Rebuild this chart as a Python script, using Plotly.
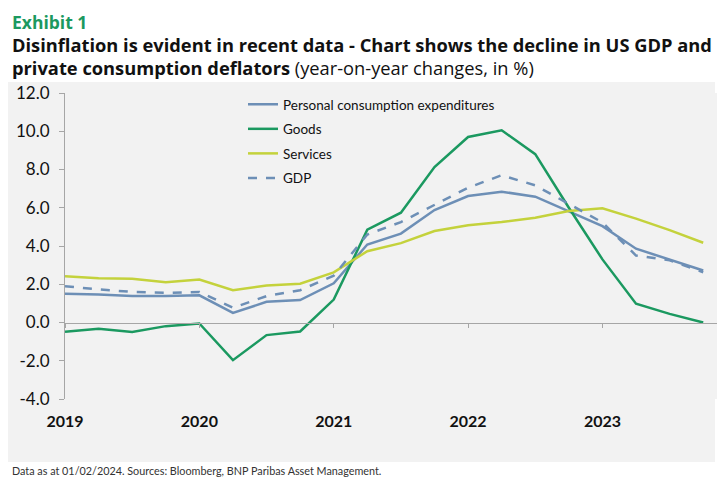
import plotly.graph_objects as go

# ============================================================================
# DATA - US GDP and private consumption deflators (y/y %, quarterly)
# ============================================================================
quarters = [
    "2019Q1", "2019Q2", "2019Q3", "2019Q4",
    "2020Q1", "2020Q2", "2020Q3", "2020Q4",
    "2021Q1", "2021Q2", "2021Q3", "2021Q4",
    "2022Q1", "2022Q2", "2022Q3", "2022Q4",
    "2023Q1", "2023Q2", "2023Q3", "2023Q4",
]
pce = [1.50, 1.47, 1.38, 1.38, 1.42, 0.50, 1.08, 1.17, 2.05, 4.08,
       4.65, 5.88, 6.61, 6.84, 6.58, 5.83, 5.04, 3.86, 3.30, 2.72]
goods = [-0.49, -0.33, -0.50, -0.19, -0.05, -1.97, -0.66, -0.47, 1.20, 4.85,
         5.74, 8.13, 9.70, 10.05, 8.80, 6.00, 3.30, 0.98, 0.45, 0.00]
services = [2.42, 2.32, 2.29, 2.11, 2.25, 1.69, 1.94, 2.03, 2.62, 3.73,
            4.15, 4.78, 5.08, 5.25, 5.48, 5.83, 5.97, 5.43, 4.83, 4.17]
gdp = [1.90, 1.73, 1.60, 1.55, 1.60, 0.77, 1.38, 1.69, 2.45, 4.60,
       5.25, 6.13, 7.05, 7.70, 7.17, 6.20, 5.23, 3.50, 3.25, 2.63]

year_ticks = ["2019Q1", "2020Q1", "2021Q1", "2022Q1", "2023Q1"]
year_labels = ["2019", "2020", "2021", "2022", "2023"]
y_ticks = [-4, -2, 0, 2, 4, 6, 8, 10, 12]
y_labels = ["-4.0", "-2.0", "0.0", "2.0", "4.0", "6.0", "8.0", "10.0", "12.0"]

BLUE = "#6d8fb6"
GREEN = "#1b9960"
LIME = "#c4d23c"
PANEL = "#f2f2f2"
FONT = "Lato"
TFONT = "Open Sans"

fig = go.Figure()

series = [
    ("Personal consumption expenditures", pce, BLUE, "solid"),
    ("Goods", goods, GREEN, "solid"),
    ("Services", services, LIME, "solid"),
    ("GDP", gdp, BLUE, "dash"),
]
for name, vals, color, dash in series:
    fig.add_trace(go.Scatter(
        x=quarters, y=vals, mode="lines", name=name, legendgroup=name,
        line=dict(color=color, width=2.5, dash=dash),
    ))

# page is drawn with an 8px body offset; work in screen pixels
OFF = 8
W, H = 725 - OFF, 484 - OFF
L, R, T, B = 65 - OFF, 13 - OFF, 93 - OFF, 85
pw, ph = W - L - R, H - T - B


def px(x):
    return (x - OFF - L) / pw


def py(y):
    return (ph + T - (y - OFF)) / ph


# gray panel behind chart area
fig.add_shape(type="rect", xref="paper", yref="paper", layer="below",
              x0=px(8), x1=px(715), y0=py(462), y1=py(82),
              fillcolor=PANEL, line_width=0)

# heading block: exhibit label + two-line title
heading = (
    f"<span style='color:{GREEN}'><b>Exhibit 1</b></span><br>"
    "<span style='font-size:18.3px'><b>Disinflation is evident in recent data - "
    "Chart shows the decline in US GDP and</b></span><br>"
    "<span style='font-size:18.3px'><b>private consumption deflators</b> "
    "(year-on-year changes, in %)</span>"
)
fig.add_annotation(text=heading, xref="paper", yref="paper",
                   x=px(10), y=py(8), xanchor="left", yanchor="top", align="left",
                   showarrow=False, font=dict(family=TFONT, size=17.5, color="#111111"))
fig.add_annotation(text="Data as at 01/02/2024. Sources: Bloomberg, BNP Paribas Asset Management.",
                   xref="paper", yref="paper", x=px(10), y=py(462),
                   xanchor="left", yanchor="top", showarrow=False,
                   font=dict(family=FONT, size=10.8, color="#333333"))

fig.update_xaxes(
    type="category", range=[0, 19.5], anchor="free", position=0.25,
    showline=True, linecolor="#a6a6a6", linewidth=1,
    ticks="outside", ticklen=4, tickcolor="#a6a6a6",
    tickvals=year_ticks, ticktext=year_labels, ticklabelstandoff=80,
    tickfont=dict(family=FONT, size=16, color="#111111", weight="bold"),
    showgrid=False, zeroline=False,
)
fig.update_yaxes(
    range=[-4, 12], tickvals=y_ticks, ticktext=y_labels,
    showline=True, linecolor="#a6a6a6", linewidth=1,
    ticks="outside", ticklen=5, tickcolor="#a6a6a6", ticklabelstandoff=6,
    tickfont=dict(family=FONT, size=17, color="#111111"),
    showgrid=False, zeroline=False,
)
fig.update_layout(
    width=W, height=H,
    margin=dict(l=L, r=R, t=T, b=B),
    paper_bgcolor="white", plot_bgcolor=PANEL,
    font=dict(family=FONT),
    legend=dict(x=px(243), y=py(89), xanchor="left", yanchor="top",
                bgcolor="rgba(0,0,0,0)", traceorder="grouped", tracegroupgap=4,
                font=dict(family=FONT, size=13.5, color="#111111")),
    showlegend=True,
)

fig.write_html("out.html")
